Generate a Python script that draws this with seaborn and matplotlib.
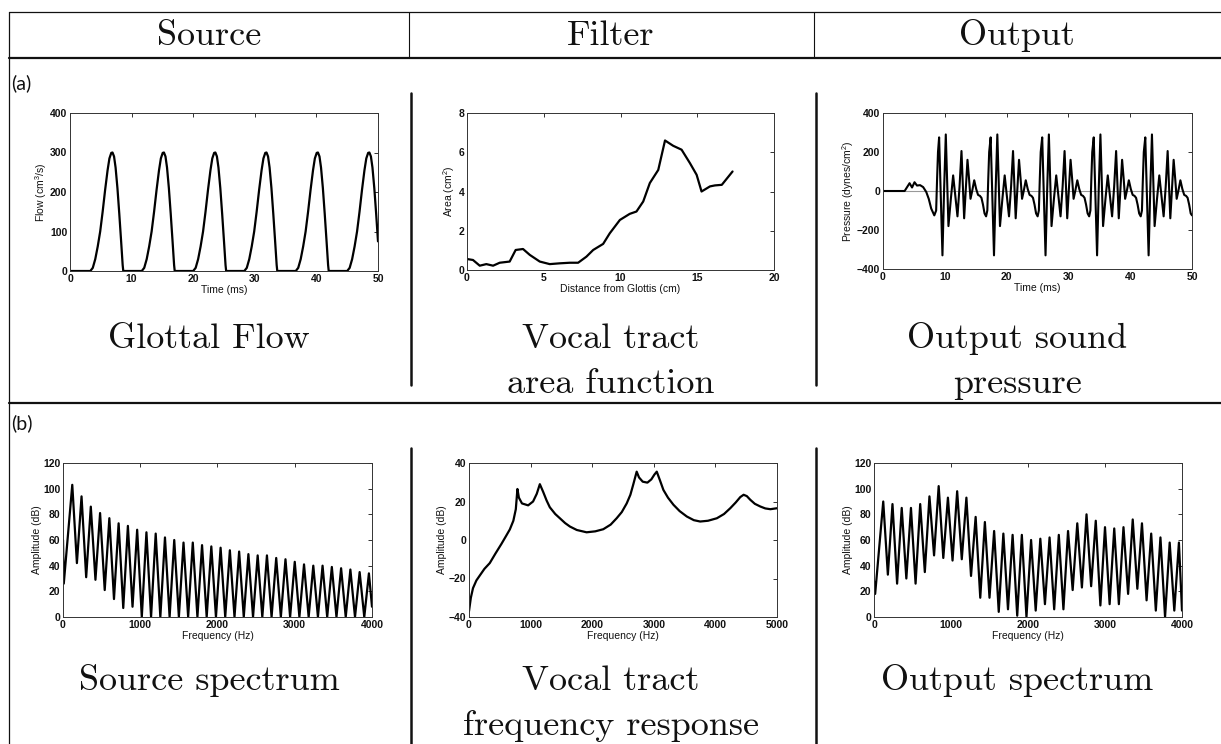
import numpy as np
import matplotlib
matplotlib.use("Agg")
import matplotlib.pyplot as plt
import seaborn as sns

W, H = 1221, 744

# ---------------- data ----------------
# glottal flow: one pulse (ms after onset, cm^3/s) + onset of each pulse (ms)
pulse_t = [0, 0.4, 0.8, 1.2, 1.6, 2.0, 2.4, 2.8, 3.1, 3.4, 3.6, 3.85, 4.1, 4.4, 4.7, 5.0, 5.25, 5.35]
pulse_flow = [0, 8, 30, 62, 100, 150, 205, 255, 285, 299, 300, 290, 262, 210, 145, 75, 15, 0]
pulse_onsets = [3.3, 11.65, 20.0, 28.3, 36.65, 45.0]

# vocal tract area function (cm, cm^2)
dist_cm = [0, 0.39, 0.83, 1.26, 1.7, 2.13, 2.78, 3.17, 3.65, 4.09, 4.74, 5.39, 6.04, 6.7, 7.24,
           7.78, 8.22, 8.87, 9.3, 9.96, 10.6, 11.04, 11.48, 11.91, 12.46, 12.9, 13.43, 13.98,
           14.52, 14.96, 15.28, 15.83, 16.15, 16.6, 17.3]
area_cm2 = [0.56, 0.51, 0.22, 0.3, 0.22, 0.37, 0.43, 1.02, 1.07, 0.77, 0.43, 0.3, 0.34, 0.37, 0.37,
            0.68, 1.02, 1.33, 1.87, 2.55, 2.86, 2.98, 3.49, 4.43, 5.1, 6.6, 6.33, 6.13,
            5.45, 4.85, 4.0, 4.26, 4.31, 4.34, 5.02]

# output pressure: onset transient, one period (ms after main peak) and main peak times
p_start_t = [0, 3.5, 4.0, 4.3, 4.7, 5.1, 5.5, 6.0, 6.5, 7.0, 7.4, 7.8, 8.3, 8.6, 8.75, 8.9]
p_start_v = [0, 0, 25, 40, 18, 45, 28, 30, 20, -5, -40, -90, -125, -100, 60, 200]
cycle_t = [0.0, 0.27, 0.54, 0.8, 1.08, 1.3, 1.51, 1.9, 2.27, 2.6, 2.97, 3.3, 3.62, 3.85, 4.05,
           4.3, 4.59, 4.85, 5.08, 5.35, 5.68, 6.0, 6.3, 6.6, 6.85, 7.1, 7.35, 7.6, 7.8, 7.95, 8.1]
cycle_v = [275, -20, -330, 0, 290, 40, -180, -40, 80, -20, -130, 20, 205, 20, -140,
           0, 160, 60, -40, 0, 55, 10, -20, -25, -35, -70, -115, -130, -100, 60, 200]
cycle_peaks = [9.08, 17.42, 25.76, 34.1, 42.44]
p_end = (50, -125)

# spectra: harmonics of F0
f0 = 120
src_peaks = [103, 94, 86, 81, 77, 73, 71, 68, 66, 65, 62, 60, 58, 58, 56, 55, 54,
             52, 51, 49, 48, 48, 46, 45, 43, 41, 40, 40, 39, 38, 37, 35, 34]
src_troughs = [42, 31, 29, 21, 14, 7, 8, 0, 0, 0, 0, 0, 0, 0, 0, 0,
               0, 0, 0, 0, 0, 0, 0, 0, 0, 0, 0, 0, 0, 0, 0, 0]
src_start = [(0, 60), (10, 26)]
src_end = (4000, 8)

out_peaks = [90, 88, 85, 85, 88, 94, 102, 93, 98, 93, 78, 74, 67, 65, 64, 64, 60,
             61, 62, 64, 67, 73, 80, 75, 70, 69, 70, 76, 73, 65, 62, 58, 58]
out_troughs = [33, 26, 30, 26, 35, 48, 46, 44, 45, 32, 15, 15, 4, 6, 1, 0,
               5, 10, 6, 6, 21, 23, 24, 9, 10, 10, 18, 22, 13, 5, 0, 5]
out_start = [(0, 28), (15, 18)]
out_end = (4000, 5)

# vocal tract frequency response (Hz, dB)
vt_hz = [0, 30, 65, 120, 174, 250, 337, 430, 527, 600, 663, 720, 760, 786, 810, 860, 960, 1040,
         1100, 1150, 1204, 1260, 1312, 1400, 1475, 1560, 1638, 1750, 1909, 2050, 2180, 2300,
         2397, 2480, 2560, 2620, 2668, 2722, 2760, 2820, 2896, 2960, 3010, 3048, 3100, 3156,
         3230, 3319, 3420, 3536, 3650, 3753, 3880, 4024, 4140, 4241, 4330, 4404, 4458, 4510,
         4566, 4640, 4729, 4810, 4892, 5000]
vt_db = [-37, -30, -25, -21, -18.5, -15, -12, -7, -2, 2, 5.5, 10, 16, 26.5, 22, 19, 18, 20,
         24, 29, 25, 20.5, 17, 13.5, 11.3, 8.8, 7, 5.2, 4, 4.5, 5.6, 8,
         11.3, 14.5, 19, 23.5, 29, 35.5, 32.5, 30.3, 29.8, 31.5, 34, 35.5, 31, 26,
         22, 18.3, 15, 12.2, 10.3, 9.6, 10, 11.3, 13.5, 16.5, 19.5, 22.3, 23.5, 22.8,
         20.9, 18.8, 17.4, 16.4, 16, 16.5]

# ---------------- assemble series ----------------
glot_t, glot_f = [0.0], [0.0]
for t0 in pulse_onsets:
    for dt, f in zip(pulse_t, pulse_flow):
        if t0 + dt <= 50:
            glot_t.append(t0 + dt)
            glot_f.append(f)

pres_t, pres_v = list(p_start_t), list(p_start_v)
for t0 in cycle_peaks:
    for dt, v in zip(cycle_t, cycle_v):
        if t0 + dt < 50:
            pres_t.append(t0 + dt)
            pres_v.append(v)
pres_t.append(p_end[0])
pres_v.append(p_end[1])


def spectrum(start, peaks, troughs, end):
    xs = [p[0] for p in start]
    ys = [p[1] for p in start]
    for k, pk in enumerate(peaks):
        xs.append(f0 * (k + 1))
        ys.append(pk)
        if k < len(troughs):
            xs.append(f0 * (k + 1.5))
            ys.append(troughs[k])
    xs.append(end[0])
    ys.append(end[1])
    return xs, ys


src_x, src_y = spectrum(src_start, src_peaks, src_troughs, src_end)
out_x, out_y = spectrum(out_start, out_peaks, out_troughs, out_end)

# ---------------- figure ----------------
sns.set_style("white")
plt.rcParams["font.family"] = ["Liberation Sans", "DejaVu Sans"]
plt.rcParams["mathtext.fontset"] = "custom"
plt.rcParams["mathtext.rm"] = "Liberation Sans"

fig = plt.figure(figsize=(W / 100, H / 100), dpi=100)

bg = fig.add_axes([0, 0, 1, 1])
bg.set_xlim(0, W)
bg.set_ylim(H, 0)
bg.axis("off")

ink = "#111111"
# table rules
bg.plot([9, W], [12, 12], color=ink, lw=0.9)
bg.plot([9, W], [58, 58], color=ink, lw=1.6)
bg.plot([9, W], [403, 403], color=ink, lw=1.6)
bg.plot([9, 9], [12, H], color=ink, lw=0.9)
for xs in (409, 814):
    bg.plot([xs, xs], [12, 58], color=ink, lw=0.8)
    bg.plot([xs + 1.5, xs + 1.5], [93, 385], color=ink, lw=1.8)
    bg.plot([xs + 1.5, xs + 1.5], [448, H], color=ink, lw=1.8)

cm = dict(family="cmr10", fontsize=26, ha="center", va="baseline", color=ink)
col_c = [209, 611, 1017]
for c, s in zip(col_c, ["Source", "Filter", "Output"]):
    bg.text(c, 45, s, **cm)
bg.text(col_c[0], 348, "Glottal Flow", **cm)
bg.text(col_c[1], 348, "Vocal tract", **cm)
bg.text(col_c[1], 393, "area function", **cm)
bg.text(col_c[2], 348, "Output sound", **cm)
bg.text(col_c[2], 393, "pressure", **cm)
bg.text(col_c[0], 690, "Source spectrum", **cm)
bg.text(col_c[1], 690, "Vocal tract", **cm)
bg.text(col_c[1], 735, "frequency response", **cm)
bg.text(col_c[2], 690, "Output spectrum", **cm)

bg.text(11, 83, "(a)", fontsize=14, va="center", ha="left", family="Lato", color=ink)
bg.text(11, 423, "(b)", fontsize=14, va="center", ha="left", family="Lato", color=ink)


def px_axes(x0, y0, x1, y1):
    ax = fig.add_axes([x0 / W, 1 - y1 / H, (x1 - x0) / W, (y1 - y0) / H])
    ax.tick_params(direction="in", top=True, right=True, length=3, width=0.6,
                   labelsize=7.5, pad=2, colors=ink)
    for lab in ax.get_xticklabels() + ax.get_yticklabels():
        lab.set_fontweight("bold")
    for sp in ax.spines.values():
        sp.set_linewidth(0.7)
        sp.set_color("#333333")
    return ax


def style(ax, xlim, ylim, xticks, yticks, xlabel, ylabel):
    ax.set_xlim(*xlim)
    ax.set_ylim(*ylim)
    ax.set_xticks(xticks)
    ax.set_yticks(yticks)
    for lab in ax.get_xticklabels() + ax.get_yticklabels():
        lab.set_fontweight("bold")
    ax.set_xlabel(xlabel, fontsize=7.5, labelpad=1, color=ink)
    ax.set_ylabel(ylabel, fontsize=7.5, labelpad=1, color=ink)


lw = 1.6
line_kw = dict(color="black", estimator=None, sort=False)

# row (a)
ax = px_axes(70, 113, 378, 271)
sns.lineplot(x=glot_t, y=glot_f, ax=ax, lw=lw, **line_kw)
style(ax, (0, 50), (0, 400), range(0, 51, 10), range(0, 401, 100),
      "Time (ms)", "Flow (cm$^3$/s)")

ax = px_axes(467, 113, 774, 270)
sns.lineplot(x=dist_cm, y=area_cm2, ax=ax, lw=lw, **line_kw)
style(ax, (0, 20), (0, 8), range(0, 21, 5), range(0, 9, 2),
      "Distance from Glottis (cm)", "Area (cm$^2$)")

ax = px_axes(883, 113, 1192, 269)
ax.axhline(0, color="#999999", lw=0.8, zorder=1)
sns.lineplot(x=pres_t, y=pres_v, ax=ax, lw=1.5, **line_kw)
style(ax, (0, 50), (-400, 400), range(0, 51, 10), range(-400, 401, 200),
      "Time (ms)", "Pressure (dynes/cm$^2$)")

# row (b)
ax = px_axes(63, 463, 372, 617)
sns.lineplot(x=src_x, y=src_y, ax=ax, lw=1.6, **line_kw)
style(ax, (0, 4000), (0, 120), range(0, 4001, 1000), range(0, 121, 20),
      "Frequency (Hz)", "Amplitude (dB)")

ax = px_axes(469, 463, 777, 617)
sns.lineplot(x=vt_hz, y=vt_db, ax=ax, lw=lw, **line_kw)
style(ax, (0, 5000), (-40, 40), range(0, 5001, 1000), range(-40, 41, 20),
      "Frequency (Hz)", "Amplitude (dB)")

ax = px_axes(874, 463, 1182, 617)
sns.lineplot(x=out_x, y=out_y, ax=ax, lw=1.6, **line_kw)
style(ax, (0, 4000), (0, 120), range(0, 4001, 1000), range(0, 121, 20),
      "Frequency (Hz)", "Amplitude (dB)")

fig.savefig("out.png", dpi=100, facecolor="white")
